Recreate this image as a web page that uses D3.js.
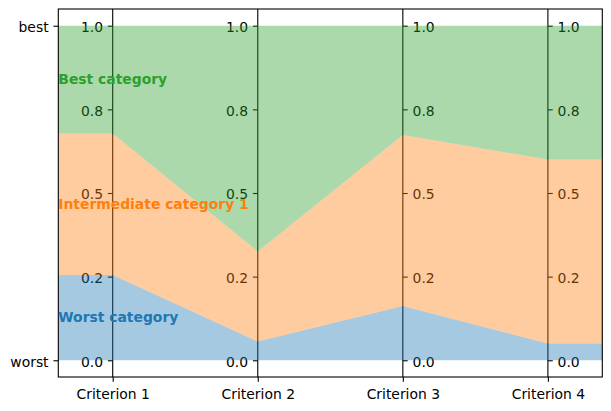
<!DOCTYPE html>
<html>
<head>
<meta charset="utf-8">
<script src="https://cdn.jsdelivr.net/npm/d3@7"></script>
<style>
  html, body { margin: 0; padding: 0; background: #fff; }
  svg { display: block; }
  text { font-family: "DejaVu Sans", sans-serif; }
</style>
</head>
<body>
<svg id="chart" width="611" height="411"></svg>
<script>
// ---- data ----
const criteria = ["Criterion 1", "Criterion 2", "Criterion 3", "Criterion 4"];
const worstUpper = [0.255, 0.056, 0.162, 0.050];
const intermediateUpper = [0.678, 0.325, 0.673, 0.600];
const categories = ["Worst category", "Intermediate category 1", "Best category"];
const categoryColors = ["#1f77b4", "#ff7f0e", "#2ca02c"];
const tickValues = [0, 0.25, 0.5, 0.75, 1];
const tickLabels = ["0.0", "0.2", "0.5", "0.8", "1.0"];
const edgeValues = [0, 1];
const edgeLabels = ["worst", "best"];

// ---- layout ----
const plotLeft = 58.3, plotRight = 602.3, plotTop = 9, plotBottom = 377;
const fontSize = 13.9;
const tickLen = 4.86, pad = 4.86;

const svg = d3.select("#chart");

const x = d3.scaleLinear().domain([-0.375, 3.375]).range([plotLeft, plotRight]);
const y = d3.scaleLinear().domain([-0.05, 1.05]).range([plotBottom, plotTop]);

// band bounds per category
const zeros = criteria.map(() => 0);
const ones = criteria.map(() => 1);
const bands = [
  { lo: zeros, hi: worstUpper },
  { lo: worstUpper, hi: intermediateUpper },
  { lo: intermediateUpper, hi: ones }
];

function extended(arr) {
  const [x0, x1] = x.domain();
  const pts = arr.map((v, i) => [i, v]);
  return [[x0, arr[0]], ...pts, [x1, arr[arr.length - 1]]];
}

function styleAxis(g, dy) {
  g.select(".domain").remove();
  g.selectAll("line").attr("stroke", "#000").attr("stroke-width", 1.1);
  g.selectAll("text")
    .attr("font-size", fontSize)
    .attr("font-family", "DejaVu Sans")
    .attr("fill", "#000")
    .attr("dy", dy);
}

// ---- vertical criterion axes (drawn under the fills) ----
const axesG = svg.append("g");
criteria.forEach((c, i) => {
  const xi = x(i);
  const g = axesG.append("g").attr("transform", `translate(${xi},0)`);
  g.append("line")
    .attr("y1", plotTop).attr("y2", plotBottom)
    .attr("stroke", "#000").attr("stroke-width", 1.1);
  const onLeft = i < 2;
  const axis = (onLeft ? d3.axisLeft(y) : d3.axisRight(y))
    .tickValues(tickValues)
    .tickFormat((d, k) => tickLabels[k])
    .tickSize(tickLen).tickPadding(pad);
  const ag = g.append("g").call(axis);
  styleAxis(ag, "0.43em");
});

// ---- fills ----
const area = d3.area()
  .x(d => x(d[0]))
  .y0(d => y(d[1]))
  .y1(d => y(d[2]));

bands.forEach((b, k) => {
  const lo = extended(b.lo), hi = extended(b.hi);
  const pts = lo.map((p, j) => [p[0], p[1], hi[j][1]]);
  svg.append("path")
    .attr("d", area(pts))
    .attr("fill", categoryColors[k])
    .attr("fill-opacity", 0.4);
});

// ---- frame ----
svg.append("rect")
  .attr("x", plotLeft).attr("y", plotTop)
  .attr("width", plotRight - plotLeft).attr("height", plotBottom - plotTop)
  .attr("fill", "none").attr("stroke", "#000").attr("stroke-width", 1.1);

// ---- left edge axis (worst / best) ----
const leftAxis = d3.axisLeft(y)
  .tickValues(edgeValues)
  .tickFormat((d, k) => edgeLabels[k])
  .tickSize(tickLen).tickPadding(pad);
const lg = svg.append("g").attr("transform", `translate(${plotLeft},0)`).call(leftAxis);
styleAxis(lg, "0.43em");

// ---- bottom axis ----
const xb = d3.axisBottom(x)
  .tickValues(criteria.map((c, i) => i))
  .tickFormat((d) => criteria[d])
  .tickSize(tickLen).tickPadding(pad);
const bg = svg.append("g").attr("transform", `translate(0,${plotBottom})`).call(xb);
styleAxis(bg, "0.87em");

// ---- category labels ----
bands.forEach((b, k) => {
  svg.append("text")
    .attr("x", x(x.domain()[0]))
    .attr("y", y((b.lo[0] + b.hi[0]) / 2))
    .attr("dy", "0.33em")
    .attr("font-size", fontSize)
    .attr("font-weight", "bold")
    .attr("fill", categoryColors[k])
    .text(categories[k]);
});
</script>
</body>
</html>
